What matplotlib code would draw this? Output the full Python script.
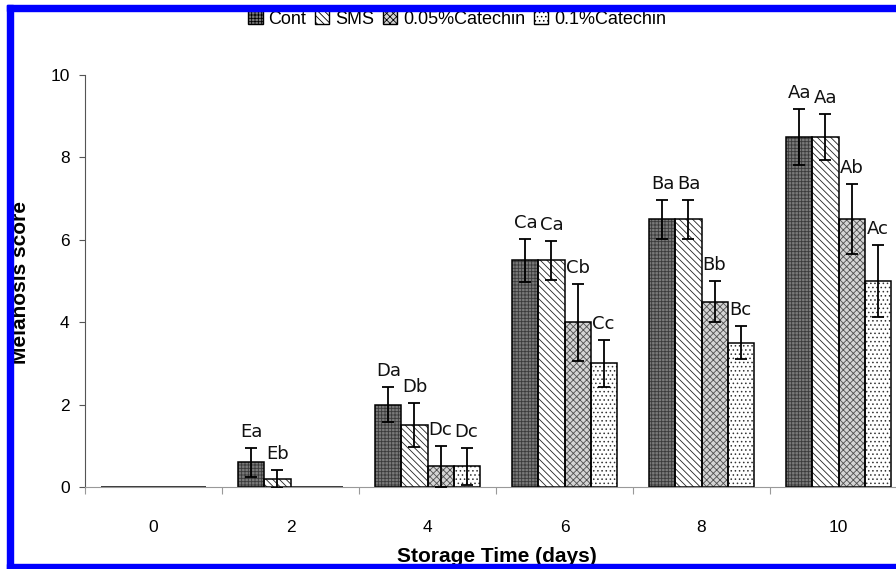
import matplotlib
matplotlib.use("Agg")
import matplotlib.pyplot as plt
import numpy as np
from matplotlib.patches import Rectangle

days = ["0", "2", "4", "6", "8", "10"]
series = ["Cont", "SMS", "0.05%Catechin", "0.1%Catechin"]

cont = [0, 0.6, 2.0, 5.5, 6.5, 8.5]
sms = [0, 0.2, 1.5, 5.5, 6.5, 8.5]
cat005 = [0, 0, 0.5, 4.0, 4.5, 6.5]
cat01 = [0, 0, 0.5, 3.0, 3.5, 5.0]

cont_err = [0, 0.35, 0.43, 0.53, 0.47, 0.68]
sms_err = [0, 0.22, 0.54, 0.47, 0.47, 0.56]
cat005_err = [0, 0, 0.5, 0.93, 0.5, 0.85]
cat01_err = [0, 0, 0.45, 0.57, 0.4, 0.88]

cont_lbl = ["", "Ea", "Da", "Ca", "Ba", "Aa"]
sms_lbl = ["", "Eb", "Db", "Ca", "Ba", "Aa"]
cat005_lbl = ["", "", "Dc", "Cb", "Bb", "Ab"]
cat01_lbl = ["", "", "Dc", "Cc", "Bc", "Ac"]

values = [cont, sms, cat005, cat01]
errors = [cont_err, sms_err, cat005_err, cat01_err]
labels = [cont_lbl, sms_lbl, cat005_lbl, cat01_lbl]
faces = ["#7a7a7a", "white", "#d4d4d4", "white"]
hatch_colors = ["#3a3a3a", "#222222", "#505050", "#333333"]
hatches = ["+++++", "\\\\\\\\\\", "xxxxx", "...."]

plt.rcParams["hatch.linewidth"] = 0.6
plt.rcParams["font.family"] = ["Liberation Sans", "DejaVu Sans"]

W, H = 896, 569
fig = plt.figure(figsize=(W / 100, H / 100), dpi=100, facecolor="white")
ax = fig.add_axes([85 / W, (H - 487) / H, 822 / W, (487 - 75) / H])

x = np.arange(len(days))
width = 0.19
offsets = (np.arange(4) - 1.5) * width

handles = []
for i in range(4):
    xs = x + offsets[i]
    # hatch layer, then black outline on top
    ax.bar(xs, values[i], width=width, color=faces[i], edgecolor=hatch_colors[i],
           linewidth=0, hatch=hatches[i], zorder=2)
    ax.bar(xs, values[i], width=width, fill=False, edgecolor="black",
           linewidth=1.1, zorder=2.5)
    handles.append(Rectangle((0, 0), 1, 1, facecolor=faces[i], edgecolor="black",
                             linewidth=1.0, hatch=hatches[i]))
    vals = np.array(values[i], dtype=float)
    errs = np.array(errors[i], dtype=float)
    keep = vals > 0
    ax.errorbar(xs[keep], vals[keep], yerr=errs[keep], fmt="none", ecolor="black",
                elinewidth=1.3, capsize=4.5, capthick=1.3, zorder=3)
    for xi, v, e, t in zip(xs, vals, errs, labels[i]):
        if t:
            ax.annotate(t, (xi, v + e), xytext=(0, 5), textcoords="offset points",
                        ha="center", va="bottom", fontsize=13, family="DejaVu Sans",
                        color="#111111")

ax.set_xlim(-0.5, 5.5)
ax.set_ylim(0, 10)
ax.set_yticks([0, 2, 4, 6, 8, 10])
ax.tick_params(axis="y", labelsize=12.5, length=4, pad=7, color="#555555")
ax.set_xticks(np.arange(-0.5, 5.6, 1.0))
ax.set_xticklabels([])
ax.tick_params(axis="x", which="major", length=5, color="#999999")
ax.set_xticks(x, minor=True)
ax.set_xticklabels(days, minor=True)
ax.tick_params(axis="x", which="minor", length=0, pad=24, labelsize=12.5)
for s in ["top", "right"]:
    ax.spines[s].set_visible(False)
ax.spines["left"].set_color("#555555")
ax.spines["bottom"].set_color("#999999")

fig.text(20 / W, 1 - 282 / H, "Melanosis score", rotation=90, ha="center", va="center",
         fontsize=15, weight="bold")
fig.text(497 / W, 1 - 556 / H, "Storage Time (days)", ha="center", va="center",
         fontsize=15, weight="bold")

fig.legend(handles=handles, labels=series, loc="center", bbox_to_anchor=(457 / W, 1 - 19 / H),
           ncol=4, frameon=False, fontsize=13, handlelength=0.8, handleheight=0.8,
           handletextpad=0.3, columnspacing=0.5, borderpad=0)

# blue frame around the figure
blue = "#0000ff"
fig.add_artist(Rectangle((7 / W, 1 - 11 / H), 1 - 7 / W, 6 / H, transform=fig.transFigure,
                         color=blue, zorder=20))
fig.add_artist(Rectangle((7 / W, 0), 6 / W, 1 - 5 / H, transform=fig.transFigure,
                         color=blue, zorder=20))
fig.add_artist(Rectangle((7 / W, 0), 1 - 7 / W, 5 / H, transform=fig.transFigure,
                         color=blue, zorder=20))

fig.savefig("out.png", dpi=100, facecolor="white")
